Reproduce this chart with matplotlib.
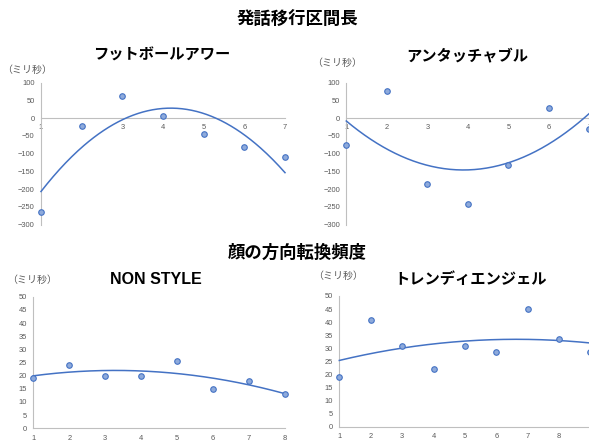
"""
Two pairs of scatter plots with quadratic trendlines (Excel-style layout).
"""
import matplotlib
matplotlib.use("Agg")
import matplotlib.pyplot as plt
import numpy as np

W, H = 589, 441
DPI = 100

# data
turn_x = [1, 2, 3, 4, 5, 6, 7]
football_y = [-265, -22, 62, 5, -45, -80, -108]
untouchable_y = [-76, 76, -185, -241, -132, 30, -30]

nonstyle_x = [1, 2, 3, 4, 5, 6, 7, 8]
nonstyle_y = [19, 24, 20, 20, 25.5, 15, 18, 13]
trendy_x = [1, 2, 3, 4, 5, 6, 7, 8, 9]
trendy_y = [19, 41, 31, 22, 31, 28.5, 45, 33.5, 28.5]

top_ticks = list(range(-300, 101, 50))
bottom_ticks = list(range(0, 51, 5))

LINE = "#4472C4"
FACE = "#8EAADB"
GRAY = "#595959"
AXIS = "#BFBFBF"
JP = ["Noto Sans CJK JP", "DejaVu Sans"]

plt.rcParams["font.family"] = ["Liberation Sans", "Noto Sans CJK JP"]


def px_axes(fig, x0, x1, ytop, ybot):
    # axes placed by pixel box (origin top-left)
    return fig.add_axes([x0 / W, 1 - ybot / H, (x1 - x0) / W, (ybot - ytop) / H])


def panel(ax, x, y, yticks, xmax):
    ax.set_xlim(x[0], xmax)
    ax.set_ylim(yticks[0], yticks[-1])
    ax.set_yticks(yticks)
    ax.set_xticks(x)
    for side in ("top", "right"):
        ax.spines[side].set_visible(False)
    ax.spines["left"].set_color(AXIS)
    ax.spines["bottom"].set_color(AXIS)
    ax.spines["bottom"].set_position(("data", 0))
    ax.tick_params(length=0, labelsize=5.4, labelcolor=GRAY, pad=4.5)

    # quadratic trendline, like the spreadsheet's polynomial fit
    coef = np.polyfit(x, y, 2)
    xs = np.linspace(x[0], xmax, 200)
    ax.plot(xs, np.polyval(coef, xs), color=LINE, lw=1.1, zorder=3, clip_on=False)
    ax.scatter(x, y, s=16, color=FACE, edgecolor=LINE, linewidth=0.8,
               zorder=4, clip_on=False)


def ptext(fig, x, y, s, **kw):
    fig.text(x / W, 1 - y / H, s, ha="center", va="center", **kw)


fig = plt.figure(figsize=(W / DPI, H / DPI), dpi=DPI)

ax1 = px_axes(fig, 41, 285, 82.7, 224.7)
panel(ax1, turn_x, football_y, top_ticks, 7)
ax2 = px_axes(fig, 346.3, 589.3, 82.7, 224.7)
panel(ax2, turn_x, untouchable_y, top_ticks, 7)
ax3 = px_axes(fig, 33.3, 285, 296.7, 428.3)
panel(ax3, nonstyle_x, nonstyle_y, bottom_ticks, 8)
ax4 = px_axes(fig, 339.3, 590.5, 296, 426.7)
panel(ax4, trendy_x, trendy_y, bottom_ticks, 9)

ptext(fig, 297, 20, "発話移行区間長", fontsize=12.5, fontweight="bold", family=JP)
ptext(fig, 297, 253, "顔の方向転換頻度", fontsize=12.5, fontweight="bold", family=JP)

ptext(fig, 162, 55, "フットボールアワー", fontsize=11, fontweight="bold", family=JP)
ptext(fig, 467, 55, "アンタッチャブル", fontsize=11, fontweight="bold", family=JP)
ptext(fig, 156, 279, "NON STYLE", fontsize=11.5, fontweight="bold")
ptext(fig, 471, 279, "トレンディエンジェル", fontsize=11, fontweight="bold", family=JP)

for x, y in [(27, 70), (337, 63), (32, 280), (338, 276)]:
    ptext(fig, x, y, "（ミリ秒）", fontsize=7.2, color=GRAY, family=JP)

fig.savefig("out.png", dpi=DPI)
